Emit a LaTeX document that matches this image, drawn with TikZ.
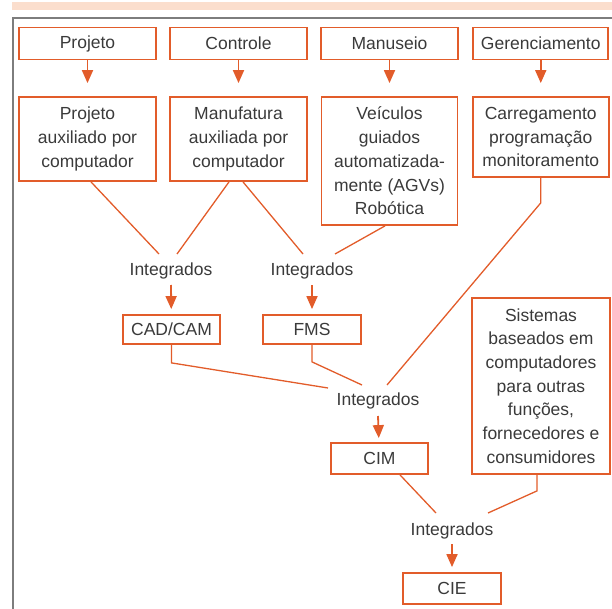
\documentclass[tikz,border=0pt]{standalone}
\usepackage{fontspec}
\setmainfont{Liberation Sans}
\usetikzlibrary{arrows.meta}
\definecolor{org}{RGB}{226,92,42}
\definecolor{band}{RGB}{251,222,205}
\definecolor{frm}{RGB}{125,125,125}
\definecolor{txt}{RGB}{58,58,58}
\begin{document}
\begin{tikzpicture}[x=1pt,y=-1pt,
  box/.style={draw=org,line width=1.8pt,text=txt,align=center,inner sep=0pt,
    font=\fontsize{17.5}{23.7}\selectfont},
  lbl/.style={text=txt,inner sep=0pt,font=\fontsize{17.5}{23.7}\selectfont},
  arr/.style={draw=org,line width=1.8pt,-{Triangle[width=11pt,length=13pt]}},
  con/.style={draw=org,line width=1.3pt}]
\useasboundingbox (0,0) rectangle (612,609);
% band and frame
\fill[band] (12,2) rectangle (612,10.5);
\draw[frm,line width=2pt] (12.5,609) -- (12.5,18) -- (612,18);
% row 1
\node[box,minimum width=137pt,minimum height=32pt] (r1a) at (87.5,43.5) {Projeto};
\node[box,minimum width=137pt,minimum height=32pt] (r1b) at (238.5,43.5) {Controle};
\node[box,minimum width=137pt,minimum height=32pt] (r1c) at (389.5,43.5) {Manuseio};
\node[box,minimum width=135pt,minimum height=32pt] (r1d) at (540.75,43.5) {Gerenciamento};
% row 2
\node[box,minimum width=137pt,minimum height=84pt] (pa) at (87.5,139) {Projeto\\auxiliado por\\computador};
\node[box,minimum width=137pt,minimum height=84pt] (ma) at (238.5,139) {Manufatura\\auxiliada por\\computador};
\node[box,minimum width=136pt,minimum height=128pt] (ve) at (389.5,161) {Veículos\\guiados\\automatizada-\\mente (AGVs)\\Robótica};
\node[box,minimum width=136pt,minimum height=80pt] (ca) at (540.75,137) {Carregamento\\programação\\monitoramento};
% arrows row1 -> row2
\draw[arr,shorten >=13pt] (r1a) -- (pa);
\draw[arr,shorten >=13pt] (r1b) -- (ma);
\draw[arr,shorten >=13pt] (r1c) -- (ve);
\draw[arr,shorten >=13pt] (r1d) -- (ca);
% integrados level 1
\node[lbl] (i1) at (171,271) {Integrados};
\node[lbl] (i2) at (312,271) {Integrados};
\node[box,minimum width=97pt,minimum height=29pt] (cad) at (171.5,329.5) {CAD/CAM};
\node[box,minimum width=98pt,minimum height=29pt] (fms) at (312,329.5) {FMS};
\draw[con] ([xshift=3.5pt]pa.south) -- ([xshift=-12pt,yshift=17pt]i1.center);
\draw[con] ([xshift=-9.5pt]ma.south) -- ([xshift=6pt,yshift=17pt]i1.center);
\draw[con] ([xshift=4.5pt]ma.south) -- ([xshift=-9pt,yshift=17pt]i2.center);
\draw[con] ([xshift=-4.5pt]ve.south) -- ([xshift=23pt,yshift=17pt]i2.center);
\draw[arr,shorten >=5pt] ([yshift=-14pt]i1.center) -- (cad);
\draw[arr,shorten >=5pt] ([yshift=-14pt]i2.center) -- (fms);
% integrados level 2
\node[lbl] (i3) at (378,401) {Integrados};
\node[box,minimum width=97pt,minimum height=31pt] (cim) at (379.5,458.5) {CIM};
\node[box,minimum width=138pt,minimum height=176pt] (si) at (541,386) {Sistemas\\baseados em\\computadores\\para outras\\funções,\\fornecedores e\\consumidores};
\draw[con] (ca.south) -- ++(0,25) -- ([xshift=9pt,yshift=16pt]i3.center);
\draw[con] (cad.south) -- ++(0,18) -- ([xshift=-50pt,yshift=13pt]i3.center);
\draw[con] (fms.south) -- ++(0,17) -- ([xshift=-16pt,yshift=16pt]i3.center);
\draw[arr,shorten >=4pt] ([yshift=-15pt]i3.center) -- (cim);
% integrados level 3
\node[lbl] (i4) at (452,531) {Integrados};
\node[box,minimum width=98pt,minimum height=31pt] (cie) at (452,588.5) {CIE};
\draw[con] ([xshift=20.5pt]cim.south) -- ([xshift=-16pt,yshift=18pt]i4.center);
\draw[con] ([xshift=-4pt]si.south) -- ++(0,16) -- ([xshift=36pt,yshift=18pt]i4.center);
\draw[arr,shorten >=5pt] ([yshift=-13pt]i4.center) -- (cie);
\end{tikzpicture}
\end{document}
